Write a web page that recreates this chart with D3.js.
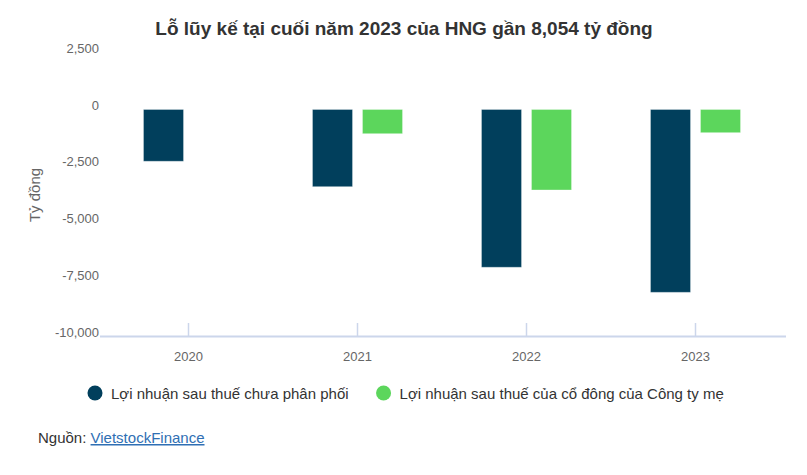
<!DOCTYPE html>
<html>
<head>
<meta charset="utf-8">
<script src="https://cdn.jsdelivr.net/npm/d3@7"></script>
<style>
  body { margin: 0; background: #fff; }
  svg { font-family: "Liberation Sans", Arial, sans-serif; }
</style>
</head>
<body>
<svg width="807" height="475"></svg>
<script>
// data
var years = ["2020", "2021", "2022", "2023"];
var seriesNames = ["Lợi nhuận sau thuế chưa phân phối", "Lợi nhuận sau thuế của cổ đông của Công ty mẹ"];
var undistributed = [-2280, -3400, -6950, -8054];
var parentProfit = [null, -1065, -3545, -1020];
var yTicks = [2500, 0, -2500, -5000, -7500, -10000];
var colors = ["#013f5c", "#5cd65c"];

function main(){
    var svg = d3.select("svg");

    var x0 = d3.scaleBand().domain(years).range([104, 780]);
    var x1 = d3.scaleBand().domain([0, 1])
        .range([x0.bandwidth()/2 - 45, x0.bandwidth()/2 + 45]).paddingInner(0.2);
    var y = d3.scaleLinear().domain([-10000, 0]).range([336.5, 109.5]);

    // title
    svg.append("text").attr("x", 404).attr("y", 35)
        .attr("text-anchor", "middle").attr("font-size", 19).attr("font-weight", "bold")
        .attr("fill", "#333").text("Lỗ lũy kế tại cuối năm 2023 của HNG gần 8,054 tỷ đồng");

    // y axis labels
    svg.append("g").selectAll("text").data(yTicks).enter().append("text")
        .attr("x", 99).attr("y", function(d){ return y(d); })
        .attr("text-anchor", "end").attr("font-size", 13).attr("fill", "#666")
        .text(function(d){ return d3.format(",")(d).replace("−", "-"); });

    svg.append("text")
        .attr("transform", "translate(40,195) rotate(-90)")
        .attr("text-anchor", "middle").attr("font-size", 15).attr("fill", "#666")
        .text("Tỷ đồng");

    // bars
    var data = [];
    years.forEach(function(yr, i){
        data.push({year: yr, s: 0, v: undistributed[i]});
        if (parentProfit[i] != null) data.push({year: yr, s: 1, v: parentProfit[i]});
    });

    svg.append("g").selectAll("rect").data(data).enter().append("rect")
        .attr("x", function(d){ return x0(d.year) + x1(d.s); })
        .attr("y", y(0))
        .attr("width", x1.bandwidth())
        .attr("height", function(d){ return y(d.v) - y(0); })
        .attr("fill", function(d){ return colors[d.s]; })
        .attr("stroke", "#fff").attr("stroke-opacity", 0.3).attr("stroke-width", 1);

    // x axis
    var xa = svg.append("g");
    xa.append("line").attr("x1", 100).attr("x2", 786).attr("y1", 336.5).attr("y2", 336.5)
        .attr("stroke", "#ccd6eb").attr("stroke-width", 2);
    xa.selectAll(".tick").data(years).enter().append("line")
        .attr("x1", function(d){ return x0(d) + x0.bandwidth()/2; })
        .attr("x2", function(d){ return x0(d) + x0.bandwidth()/2; })
        .attr("y1", 323).attr("y2", 336)
        .attr("stroke", "#ccd6eb").attr("stroke-width", 1.5);
    xa.selectAll("text").data(years).enter().append("text")
        .attr("x", function(d){ return x0(d) + x0.bandwidth()/2; })
        .attr("y", 361).attr("text-anchor", "middle")
        .attr("font-size", 13).attr("fill", "#666").text(function(d){ return d; });

    // legend
    var lx = 95;
    seriesNames.forEach(function(name, i){
        var g = svg.append("g");
        g.append("circle").attr("cx", lx).attr("cy", 393).attr("r", 7.5).attr("fill", colors[i]);
        var t = g.append("text").attr("x", lx + 16).attr("y", 398.5)
            .attr("font-size", 15).attr("fill", "#333").text(name);
        lx = lx + 16 + t.node().getComputedTextLength() + 35;
    });

    // source
    var src = svg.append("text").attr("x", 38).attr("y", 443).attr("font-size", 15);
    src.append("tspan").attr("fill", "#333").text("Nguồn: ");
    src.append("tspan").attr("fill", "#2f6fb4").attr("text-decoration", "underline").text("VietstockFinance");
}
main();
</script>
</body>
</html>
